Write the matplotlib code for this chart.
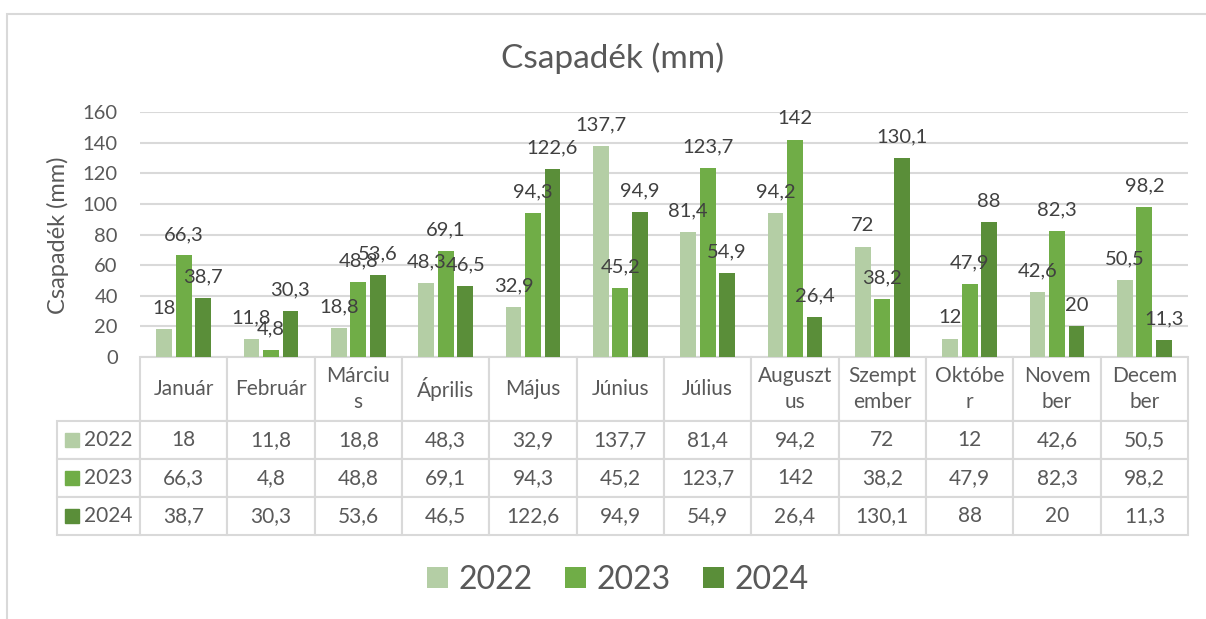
import numpy as np
import matplotlib.pyplot as plt
from matplotlib.patches import Rectangle

# Havi csapadék adatok (mm)
months = ['Január', 'Február', 'Márciu\ns', 'Április', 'Május', 'Június', 'Július',
          'Auguszt\nus', 'Szempt\nember', 'Októbe\nr', 'Novem\nber', 'Decem\nber']
years = ['2022', '2023', '2024']
rain_2022 = [18, 11.8, 18.8, 48.3, 32.9, 137.7, 81.4, 94.2, 72, 12, 42.6, 50.5]
rain_2023 = [66.3, 4.8, 48.8, 69.1, 94.3, 45.2, 123.7, 142, 38.2, 47.9, 82.3, 98.2]
rain_2024 = [38.7, 30.3, 53.6, 46.5, 122.6, 94.9, 54.9, 26.4, 130.1, 88, 20, 11.3]
yticks = [0, 20, 40, 60, 80, 100, 120, 140, 160]

colors = ['#B4CEA5', '#70AD47', '#5A8E39']
text_col = '#595959'
grid_col = '#D9D9D9'

plt.rcParams['font.family'] = ['Lato', 'DejaVu Sans']


def hu(v):
    # magyar tizedesvessző
    return ('%g' % v).replace('.', ',')


W, H = 1206, 619
fig = plt.figure(figsize=(W / 100, H / 100), dpi=100)

# külső keret (jobb és alsó széle a képen kívül esik)
fig.patches.append(Rectangle((7 / W, -0.2), 1.2, 1.2 - 14 / H, transform=fig.transFigure,
                             fill=False, edgecolor=grid_col, linewidth=1.5))

left, right, top, bottom = 140, 1188, 112, 357
ax = fig.add_axes([left / W, 1 - bottom / H, (right - left) / W, (bottom - top) / H])
aw, ah = right - left, bottom - top

x = np.arange(len(months))
series = [rain_2022, rain_2023, rain_2024]
offsets = [-0.223, 0, 0.223]
bars = []
for vals, off, c, yr in zip(series, offsets, colors, years):
    b = ax.bar(x + off, vals, width=0.18, color=c, label=yr, zorder=3)
    ax.bar_label(b, labels=[hu(v) for v in vals], padding=9, fontsize=14.5,
                 color='#404040', zorder=4)
    bars.append(b)

ax.set_xlim(-0.5, len(months) - 0.5)
ax.set_ylim(0, 160)
ax.set_yticks(yticks)
ax.set_xticks([])
ax.tick_params(axis='y', length=0, pad=16, labelsize=14.5, labelcolor=text_col)
ax.grid(axis='y', color=grid_col, linewidth=1.5, zorder=0)
for s in ax.spines.values():
    s.set_visible(False)

# adattábla: első oszlop az évek (jelmagyarázat)
hdr_h, row_h, lab_w = 64, 38, 83
cell_text = [[yr] + [hu(v) for v in vals] for yr, vals in zip(years, series)]
tot_h = hdr_h + 3 * row_h
tbl = ax.table(cellText=cell_text, colLabels=[''] + months, cellLoc='center',
               colWidths=[lab_w] + [aw / 12] * 12,
               bbox=[-lab_w / aw, -tot_h / ah, 1 + lab_w / aw, tot_h / ah])
tbl.auto_set_font_size(False)
tbl.set_fontsize(15)
for (r, c), cell in tbl.get_celld().items():
    cell.set_edgecolor(grid_col)
    cell.set_linewidth(1.5)
    cell.get_text().set_color(text_col)
    cell.set_height(hdr_h if r == 0 else row_h)
    if r == 0:
        cell.get_text().set_linespacing(1.35)
    if c == 0:
        cell.set_text_props(ha='right')
        cell.PAD = 0.09
tbl[0, 0].visible_edges = 'open'

# jelmagyarázat négyzetek a sorfejlécekben
for i, c in enumerate(colors):
    yc = -(hdr_h + row_h * (i + 0.5)) / ah
    ax.plot([(72 - left) / aw], [yc], marker='s', markersize=10.5, color=c,
            transform=ax.transAxes, clip_on=False, linestyle='none')

fig.text(613 / W, 1 - 58 / H, 'Csapadék (mm)', ha='center', va='center',
         fontsize=24, color=text_col)
fig.text(58 / W, 1 - 235 / H, 'Csapadék (mm)', ha='center', va='center',
         rotation=90, fontsize=17, color=text_col)

fig.legend(handles=bars, labels=years, loc='center', ncol=3,
           bbox_to_anchor=(618 / W, 1 - 580 / H), frameon=False, fontsize=23,
           labelcolor=text_col, handlelength=0.65, handleheight=0.65,
           handletextpad=0.35, columnspacing=1.0)

fig.savefig('out.png', dpi=100)
